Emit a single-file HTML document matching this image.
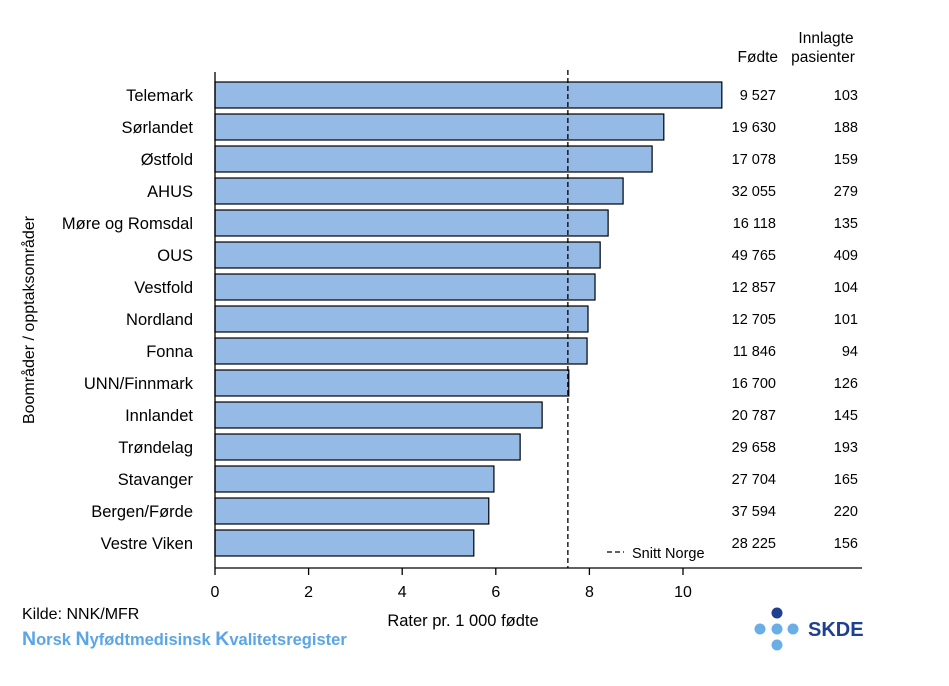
<!DOCTYPE html>
<html><head><meta charset="utf-8"><style>
body{margin:0;background:#fff;}
svg text{font-family:"Liberation Sans",Arial,sans-serif;}
</style></head><body>
<svg id="chart" width="949" height="681" viewBox="0 0 949 681">
<g id="bars"></g>
<g id="labels"></g>
<g id="table"></g>
<g id="axis"></g>
<text x="778" y="62" font-size="15.5" text-anchor="end">Fødte</text>
<text x="826" y="43" font-size="15.5" text-anchor="middle">Innlagte</text>
<text x="823" y="62" font-size="15.5" text-anchor="middle">pasienter</text>
<text transform="translate(34,320) rotate(-90)" font-size="16" text-anchor="middle">Boområder / opptaksområder</text>
<text x="463" y="626" font-size="16.5" text-anchor="middle">Rater pr. 1 000 fødte</text>
<line x1="607" y1="552" x2="624" y2="552" stroke="#000" stroke-width="1.3" stroke-dasharray="5,3"/>
<text x="632" y="558" font-size="14.5">Snitt Norge</text>
<text x="22" y="619" font-size="16">Kilde: NNK/MFR</text>
<text x="22" y="645" font-size="16.5" font-weight="bold" fill="#5aa5e6"><tspan font-size="19.5">N</tspan>orsk <tspan font-size="19.5">N</tspan>yfødtmedisinsk <tspan font-size="19.5">K</tspan>valitetsregister</text>
<g>
<circle cx="777" cy="613" r="5.5" fill="#1f3f8f"/>
<circle cx="760" cy="629" r="5.5" fill="#6aaee8"/>
<circle cx="777" cy="629" r="5.5" fill="#6aaee8"/>
<circle cx="793" cy="629" r="5.5" fill="#6aaee8"/>
<circle cx="777" cy="645" r="5.5" fill="#6aaee8"/>
<text x="808" y="636" font-size="20" font-weight="bold" fill="#1f3f8f">SKDE</text>
</g>
</svg>
<script>
const categories=["Telemark","Sørlandet","Østfold","AHUS","Møre og Romsdal","OUS","Vestfold","Nordland","Fonna","UNN/Finnmark","Innlandet","Trøndelag","Stavanger","Bergen/Førde","Vestre Viken"];
const rates=[10.83,9.59,9.34,8.72,8.40,8.23,8.12,7.97,7.95,7.56,6.99,6.52,5.96,5.85,5.53];
const fodte=["9 527","19 630","17 078","32 055","16 118","49 765","12 857","12 705","11 846","16 700","20 787","29 658","27 704","37 594","28 225"];
const innlagte=["103","188","159","279","135","409","104","101","94","126","145","193","165","220","156"];
const xTicks=[0,2,4,6,8,10];
const average=7.54;
const NS="http://www.w3.org/2000/svg";
const x=v=>215+v*46.8;
const yc=i=>95+i*32;
function mk(t,a,p,txt){const e=document.createElementNS(NS,t);for(const k in a)e.setAttribute(k,a[k]);if(txt!==undefined)e.textContent=txt;document.getElementById(p).appendChild(e);return e;}
categories.forEach((c,i)=>{
 const r=mk('rect',{x:x(0),y:yc(i)-13,width:x(rates[i])-x(0),height:26,fill:'#95bae6',stroke:'#000','stroke-width':1.2},'bars');
 
 
 const l=mk('text',{x:193,y:yc(i)+6,'font-size':16.5,'text-anchor':'end'},'labels',c);
 
 
 const f=mk('text',{x:776,y:yc(i)+5,'font-size':14.5,'text-anchor':'end'},'table',fodte[i]);
 
 
 const n=mk('text',{x:858,y:yc(i)+5,'font-size':14.5,'text-anchor':'end'},'table',innlagte[i]);
 
 
});
const avg=mk('line',{x1:x(average),x2:x(average),y1:70,y2:568,stroke:'#000','stroke-width':1.3,'stroke-dasharray':'5,3'},'axis');


mk('line',{x1:215,x2:215,y1:72,y2:568,stroke:'#000','stroke-width':1.3},'axis');
mk('line',{x1:215,x2:862,y1:568,y2:568,stroke:'#000','stroke-width':1.3},'axis');
xTicks.forEach(t=>{
 mk('line',{x1:x(t),x2:x(t),y1:568,y2:575,stroke:'#000','stroke-width':1.3},'axis');
 const tl=mk('text',{x:x(t),y:597,'font-size':16,'text-anchor':'middle'},'axis',t);
 
 
});
</script>
</body></html>
